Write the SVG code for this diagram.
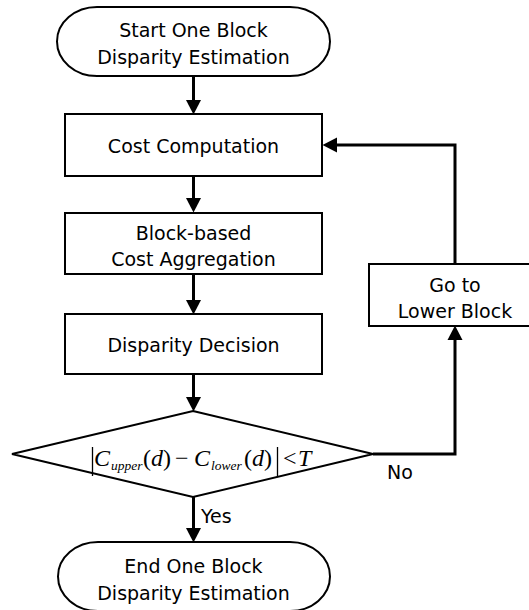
<svg xmlns="http://www.w3.org/2000/svg" width="529" height="610" viewBox="0 0 529 610">
<style>
.node{fill:#fff;stroke:#000;stroke-width:2}
.lbl{font-family:"DejaVu Sans",sans-serif;font-size:19px;fill:#000}
.c{text-anchor:middle}
.conn{fill:none;stroke:#000;stroke-width:3}
.m{font-family:"Liberation Serif","Times New Roman",serif;fill:#000}
.it{font-style:italic}
</style>
<defs>
<marker id="ah" markerUnits="userSpaceOnUse" viewBox="0 -8 15 16" markerWidth="15" markerHeight="16" refX="0" refY="0" orient="auto">
<path d="M0,-7.5 L14.5,0 L0,7.5 Z" fill="#000"/>
</marker>
</defs>
<rect width="529" height="610" fill="#fff"/>
<g id="connectors">
<path class="conn" d="M193.5,76 V100" marker-end="url(#ah)"/>
<path class="conn" d="M193.5,176 V198" marker-end="url(#ah)"/>
<path class="conn" d="M193.5,274 V300" marker-end="url(#ah)"/>
<path class="conn" d="M193.5,374 V397" marker-end="url(#ah)"/>
<path class="conn" d="M193.5,497 V528" marker-end="url(#ah)"/>
<path class="conn" d="M373,454 H455 V340" marker-end="url(#ah)"/>
<path class="conn" d="M455,264 V145 H337" marker-end="url(#ah)"/>
<text class="lbl" x="387" y="479">No</text>
<text class="lbl" x="201" y="523">Yes</text>
</g>
<g id="start">
<rect class="node" x="57" y="7" width="273" height="69" rx="40" ry="34.5"/>
<text class="lbl c" x="193.5" y="37">Start One Block</text>
<text class="lbl c" x="193.5" y="64">Disparity Estimation</text>
</g>
<g id="cost">
<rect class="node" x="65" y="114" width="257" height="62"/>
<text class="lbl c" x="193.5" y="153">Cost Computation</text>
</g>
<g id="aggregation">
<rect class="node" x="65" y="213" width="257" height="61"/>
<text class="lbl c" x="193.5" y="240">Block-based</text>
<text class="lbl c" x="193.5" y="266">Cost Aggregation</text>
</g>
<g id="decision">
<rect class="node" x="65" y="314" width="257" height="60"/>
<text class="lbl c" x="193.5" y="352">Disparity Decision</text>
</g>
<g id="condition">
<polygon class="node" points="193,411 373,454 193,497 12,454"/>
<line x1="92.5" y1="447" x2="92.5" y2="476" stroke="#000" stroke-width="1.3"/>
<line x1="277.5" y1="447" x2="277.5" y2="476" stroke="#000" stroke-width="1.3"/>
<text class="m" y="466" font-size="24"><tspan class="it" x="94">C</tspan><tspan class="it" x="111" y="470" font-size="13.5">upper</tspan><tspan x="143" y="466">(</tspan><tspan class="it">d</tspan><tspan>)</tspan><tspan x="175">−</tspan><tspan class="it" x="194">C</tspan><tspan class="it" x="211" y="470" font-size="13.5">lower</tspan><tspan x="244" y="466">(</tspan><tspan class="it">d</tspan><tspan>)</tspan><tspan x="283">&lt;</tspan><tspan class="it" x="298">T</tspan></text>
</g>
<g id="lower">
<rect class="node" x="369" y="264" width="172" height="62"/>
<text class="lbl c" x="455" y="292">Go to</text>
<text class="lbl c" x="455" y="318">Lower Block</text>
</g>
<g id="end">
<rect class="node" x="58" y="542" width="272" height="69" rx="40" ry="34.5"/>
<text class="lbl c" x="193.5" y="573">End One Block</text>
<text class="lbl c" x="193.5" y="600">Disparity Estimation</text>
</g>
</svg>
